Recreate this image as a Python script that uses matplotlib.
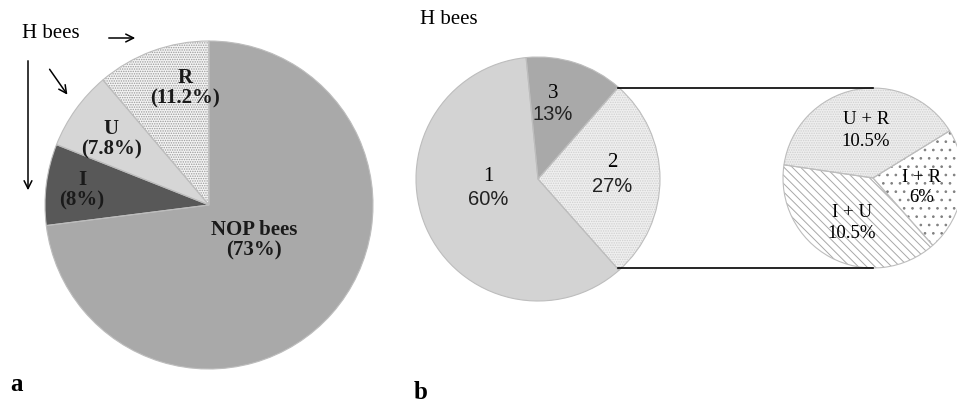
import matplotlib.pyplot as plt
import matplotlib as mpl

# panel a: H bees vs NOP bees
a_names = ['R', 'U', 'I', 'NOP bees']
a_values = [11.2, 7.8, 8, 73]
a_pct = ['11.2%', '7.8%', '8%', '73%']

# panel b: number of syndromes in H bees
b_names = ['2', '3', '1']
b_values = [27, 13, 60]

# panel b, breakdown of slice "2"
c_names = ['U + R', 'I + U', 'I + R']
c_values = [10.5, 10.5, 6]

W, H = 957, 406
SERIF = 'Liberation Serif'
SANS = 'Liberation Sans'
mpl.rcParams['hatch.linewidth'] = 0.7


def Y(y):
    return H - y


fig = plt.figure(figsize=(9.57, 4.06), dpi=100)
ax = fig.add_axes([0, 0, 1, 1])

# ---- pie a ----
ca, ra = (209, Y(206)), 164
a_face = ['#f4f4f4', '#d6d6d6', '#585858', '#a9a9a9']
a_hatch = ['.......', None, None, None]
a_hcol = ['#9a9a9a', '#d6d6d6', '#585858', '#a9a9a9']
w, _ = ax.pie(a_values, startangle=90, counterclock=True, center=ca, radius=ra,
              colors=a_face, wedgeprops=dict(linewidth=0))
for wd, h, hc in zip(w, a_hatch, a_hcol):
    wd.set_edgecolor(hc)
    if h:
        wd.set_hatch(h)
ax.pie(a_values, startangle=90, counterclock=True, center=ca, radius=ra,
       wedgeprops=dict(fill=False, edgecolor='#bdbdbd', linewidth=0.8))

a_pos = [(185, 88), (111, 139), (82, 190), (254, 240)]
for (x, y), n, p in zip(a_pos, a_names, a_pct):
    ax.text(x, Y(y), f'{n}\n({p})', ha='center', va='center', fontsize=15,
            family=SERIF, fontweight='bold', linespacing=1.0, color='#1a1a1a')

ax.text(22, Y(34), 'H bees', ha='left', va='center', fontsize=15, family=SERIF)
arr = dict(arrowstyle='->', color='black', lw=1.1, mutation_scale=14)
ax.annotate('', xy=(138, Y(39)), xytext=(106, Y(39)), arrowprops=arr)
ax.annotate('', xy=(69, Y(98)), xytext=(48, Y(68)), arrowprops=arr)
ax.annotate('', xy=(28, Y(194)), xytext=(28, Y(59)), arrowprops=arr)

# ---- pie b ----
cb, rb = (538, Y(180)), 122
b_face = ['#efefef', '#a9a9a9', '#d3d3d3']
w, _ = ax.pie(b_values, startangle=-48.4, counterclock=True, center=cb, radius=rb,
              colors=b_face, wedgeprops=dict(linewidth=0))
w[0].set_edgecolor('#d0d0d0')
w[0].set_hatch('.......')
ax.pie(b_values, startangle=-48.4, counterclock=True, center=cb, radius=rb,
       wedgeprops=dict(fill=False, edgecolor='#bdbdbd', linewidth=0.8))

b_pos = [(612, 163, 187), (553, 93, 115), (488, 177, 200)]
for (x, y1, y2), n, v in zip(b_pos, b_names, b_values):
    ax.text(x, Y(y1), n, ha='center', va='center', fontsize=15, family=SERIF)
    ax.text(x, Y(y2), f'{v}%', ha='center', va='center', fontsize=14.5, family=SANS,
            color='#222222')
ax.text(420, Y(20), 'H bees', ha='left', va='center', fontsize=15, family=SERIF)

# ---- breakdown pie ----
cc, rc = (873, Y(179)), 90
c_face = ['#eeeeee', 'white', 'white']
c_hatch = ['.......', '\\\\\\\\', '..']
c_hcol = ['#d0d0d0', '#a8a8a8', '#808080']
w, _ = ax.pie(c_values, startangle=31.6, counterclock=True, center=cc, radius=rc,
              colors=c_face, wedgeprops=dict(linewidth=0))
for wd, h, hc in zip(w, c_hatch, c_hcol):
    wd.set_edgecolor(hc)
    wd.set_hatch(h)
ax.pie(c_values, startangle=31.6, counterclock=True, center=cc, radius=rc,
       wedgeprops=dict(fill=False, edgecolor='#bdbdbd', linewidth=0.8))

c_pos = [(866, 120, 142), (852, 213, 234), (922, 178, 198)]
for (x, y1, y2), n, v in zip(c_pos, c_names, c_values):
    ax.text(x, Y(y1), n, ha='center', va='center', fontsize=13.5, family=SERIF)
    ax.text(x, Y(y2), f'{v:g}%', ha='center', va='center', fontsize=13.5, family=SERIF)

# connector lines
ax.plot([618, 873], [Y(89), Y(89)], color='black', lw=1.2)
ax.plot([618, 873], [Y(269), Y(269)], color='black', lw=1.2)

ax.text(10, Y(385), 'a', ha='left', va='center', fontsize=18, family=SERIF, fontweight='bold')
ax.text(414, Y(393), 'b', ha='left', va='center', fontsize=18, family=SERIF, fontweight='bold')

ax.set_xlim(0, W)
ax.set_ylim(0, H)
ax.set_aspect('equal')
ax.axis('off')
fig.savefig('out.png', dpi=100)
